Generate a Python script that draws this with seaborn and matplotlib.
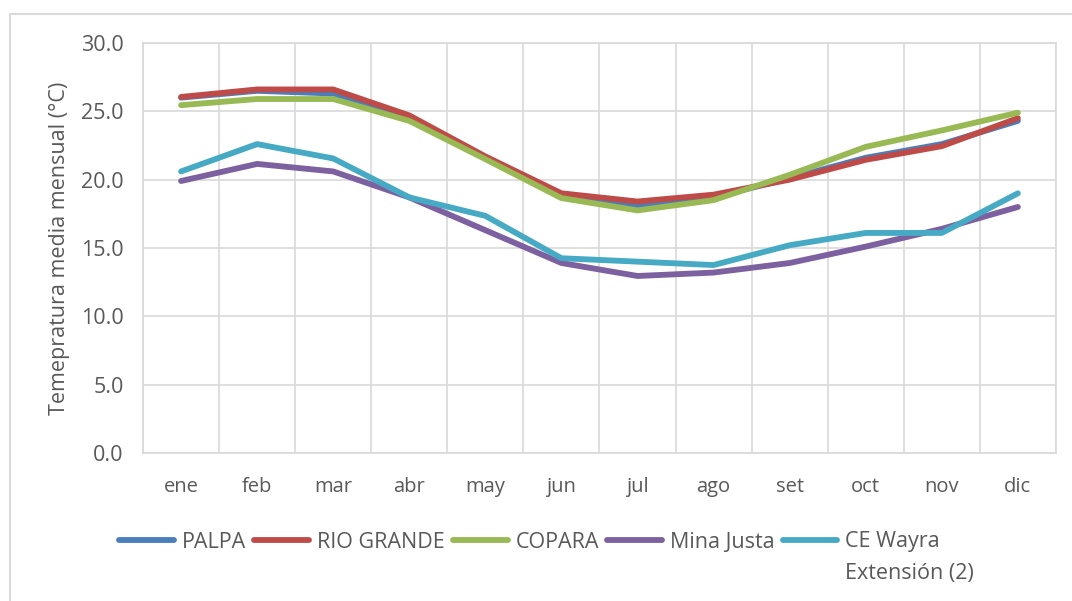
import matplotlib
matplotlib.use("Agg")
import matplotlib.pyplot as plt
from matplotlib.patches import Rectangle
import pandas as pd
import seaborn as sns

meses = ['ene', 'feb', 'mar', 'abr', 'may', 'jun', 'jul', 'ago', 'set', 'oct', 'nov', 'dic']
palpa = [26.0, 26.5, 26.3, 24.6, 21.6, 18.9, 18.1, 18.7, 20.1, 21.6, 22.6, 24.3]
rio_grande = [26.05, 26.6, 26.6, 24.7, 21.7, 19.0, 18.4, 18.9, 20.0, 21.45, 22.45, 24.5]
copara = [25.45, 25.9, 25.9, 24.3, 21.5, 18.65, 17.75, 18.5, 20.35, 22.4, 23.6, 24.9]
mina_justa = [19.9, 21.15, 20.6, 18.7, 16.3, 13.9, 12.95, 13.2, 13.9, 15.1, 16.4, 18.0]
ce_wayra = [20.6, 22.6, 21.55, 18.7, 17.35, 14.25, 14.0, 13.75, 15.2, 16.1, 16.1, 19.0]

series = ['PALPA', 'RIO GRANDE', 'COPARA', 'Mina Justa', 'CE Wayra']
colores = ['#4A7EBB', '#BE4B48', '#98B954', '#7D60A0', '#46AAC5']

rows = []
for nombre, vals in zip(series, [palpa, rio_grande, copara, mina_justa, ce_wayra]):
    for i, v in enumerate(vals):
        rows.append({'mes': i, 'temp': v, 'estacion': nombre})
df = pd.DataFrame(rows)

sns.set_style("white")
plt.rcParams['font.family'] = ['Open Sans', 'DejaVu Sans']

fig = plt.figure(figsize=(10.72, 6.01), dpi=100)
ax = fig.add_axes([0.1334, 0.2463, 0.8516, 0.6822])

# borde exterior del grafico
fig.patches.append(Rectangle((10 / 1072, -0.1), 1.2, 1 - 14 / 601 + 0.1,
                             transform=fig.transFigure, fill=False,
                             edgecolor='#d9d9d9', linewidth=1.5))

sns.lineplot(data=df, x='mes', y='temp', hue='estacion', hue_order=series,
             palette=colores, linewidth=4.2, ax=ax, legend=False,
             solid_capstyle='round')

ax.set_xlim(-0.5, 11.5)
ax.set_ylim(0, 30)
ax.set_yticks([0, 5, 10, 15, 20, 25, 30])
ax.set_yticklabels([f'{v:.1f}' for v in [0, 5, 10, 15, 20, 25, 30]])
ax.set_xticks(range(12))
ax.set_xticklabels(meses)
ax.set_xticks([i + 0.5 for i in range(-1, 12)], minor=True)
ax.grid(True, axis='y', color='#d9d9d9', linewidth=1.2)
ax.grid(True, axis='x', which='minor', color='#d9d9d9', linewidth=1.2)
ax.tick_params(axis='x', which='both', length=0, labelsize=14.5,
               labelcolor='#595959', pad=17)
ax.tick_params(axis='y', which='both', length=0, labelsize=15.5,
               labelcolor='#595959', pad=14)
for s in ax.spines.values():
    s.set_color('#d9d9d9')
    s.set_linewidth(1.2)
ax.set_xlabel('')
ax.set_ylabel('Temepratura media mensual (°C)', fontsize=15.5, color='#595959',
              labelpad=8)

handles = [plt.Line2D([], [], color=c, linewidth=4.2, solid_capstyle='round')
           for c in colores]
leg = fig.legend(handles, series, loc='center', bbox_to_anchor=(0.494, 1 - 542 / 601),
                 ncol=5, frameon=False, fontsize=15.5, handlelength=2.55,
                 handletextpad=0.37, columnspacing=0.37, labelcolor='#595959')

fig.canvas.draw()
bb = leg.get_texts()[-1].get_window_extent()
x0 = bb.x0 / fig.bbox.width
fig.text(x0, (bb.y0 - 31) / fig.bbox.height, 'Extensión (2)', fontsize=15.5,
         color='#595959', ha='left', va='bottom')

fig.savefig('out.png', dpi=100, facecolor='white')
